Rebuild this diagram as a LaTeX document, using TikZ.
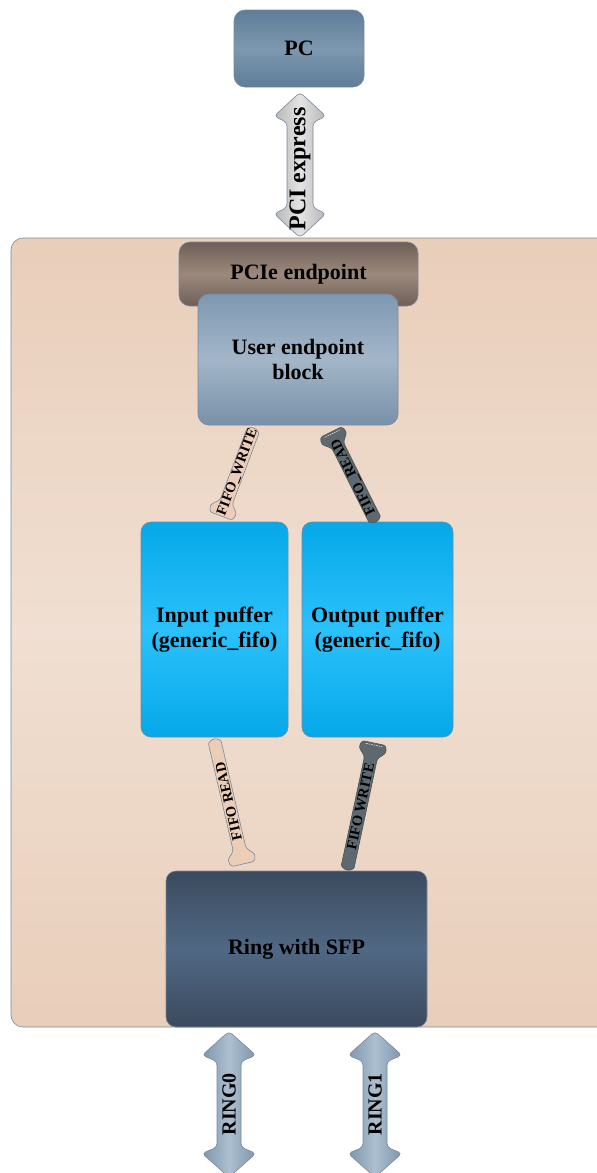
\documentclass[tikz,border=0pt]{standalone}
\usepackage{fontspec}
\setmainfont{Liberation Serif}
\usetikzlibrary{calc}

\definecolor{edge}{HTML}{7A899B}
\definecolor{pcTop}{HTML}{5E7D99}
\definecolor{pcMid}{HTML}{7D98AF}
\definecolor{uebTop}{HTML}{7E98B1}
\definecolor{uebMid}{HTML}{A3B6C8}
\definecolor{pcieTop}{HTML}{6E5F57}
\definecolor{pcieMid}{HTML}{9C897C}
\definecolor{fpgaTop}{HTML}{E9CEBA}
\definecolor{fpgaMid}{HTML}{F0DFD2}
\definecolor{fifoTop}{HTML}{05A8E8}
\definecolor{fifoMid}{HTML}{2BC1FB}
\definecolor{ringTop}{HTML}{3B4A5D}
\definecolor{ringMid}{HTML}{506884}
\definecolor{pciSide}{HTML}{B5B5B5}
\definecolor{pciMid}{HTML}{E4E4E4}
\definecolor{rarSide}{HTML}{7D95AD}
\definecolor{rarMid}{HTML}{ADBFCF}
\definecolor{peach}{HTML}{EBCDB8}
\definecolor{darkarr}{HTML}{5D696F}
\definecolor{darkedge}{HTML}{4A5459}

\tikzset{
  blockbox/.style={draw=edge, line width=0.6pt, rounded corners=11pt,
    inner sep=0pt, align=center, text=black,
    font=\bfseries\fontsize{22}{25}\selectfont},
  biglabel/.style={inner sep=0pt, text=black,
    font=\bfseries\fontsize{24}{26}\selectfont},
  ringlabel/.style={inner sep=0pt, text=black,
    font=\bfseries\fontsize{20}{24}\selectfont},
  fifotext/.style={inner sep=0pt, text=black,
    font=\bfseries\fontsize{14.5}{16}\selectfont},
  peacharrow/.style={draw=edge, line width=0.6pt, fill=peach},
  darkarrow/.style={draw=darkedge, line width=0.6pt, fill=darkarr},
  pcishade/.style={draw=edge, line width=0.6pt,
    left color=pciSide, right color=pciSide, middle color=pciMid},
  ringshade/.style={draw=edge, line width=0.6pt,
    left color=rarSide, right color=rarSide, middle color=rarMid},
}

% vertical double block arrow between two points (top tip, bottom tip)
% #3 style, #4 half head width, #5 half shaft width, #6 head length
\newcommand\dblblockarrow[6]{%
  \draw[#3, rounded corners=4pt]
    (#1) -- ($(#1)+(#4,-#6)$) -- ($(#1)+(#5,-#6-6)$)
    -- ($(#2)+(#5,#6+6)$) -- ($(#2)+(#4,#6)$) -- (#2)
    -- ($(#2)+(-#4,#6)$) -- ($(#2)+(-#5,#6+6)$)
    -- ($(#1)+(-#5,-#6-6)$) -- ($(#1)+(-#4,-#6)$) -- cycle;
}

% slanted FIFO arrow from a tail point to the flat end of its head
% #1 tail, #2 head end, #3 style, #4 label, #5 extra text turn, #6 label name
\newcommand\fifoarrow[6]{%
  \path let \p1=($(#2)-(#1)$) in
    \pgfextra{\pgfmathparse{atan2(\y1,\x1)}\xdef\fang{\pgfmathresult}%
              \pgfmathparse{veclen(\x1,\y1)}\xdef\flen{\pgfmathresult}};
  \begin{scope}[shift={(#1)}, rotate=\fang]
    \draw[#3, rounded corners=2.5pt]
      (\flen-15,6.5) -- (6.5,6.5) arc[start angle=90, end angle=270, radius=6.5]
      -- (\flen-15,-6.5) -- (\flen-7,-14) -- (\flen,-12)
      -- (\flen,12) -- (\flen-7,14) -- cycle;
    \node[fifotext, rotate={\fang+#5}] (#6) at (\flen/2,0) {#4};
  \end{scope}
}
% light dashed highlight across a dark arrow head
\newcommand\headglint[2]{%
  \path let \p1=($(#2)-(#1)$) in
    \pgfextra{\pgfmathparse{atan2(\y1,\x1)}\xdef\fang{\pgfmathresult}%
              \pgfmathparse{veclen(\x1,\y1)}\xdef\flen{\pgfmathresult}};
  \begin{scope}[shift={(#1)}, rotate=\fang]
    \draw[white!85!gray, line width=0.5pt, dash pattern=on 1.5pt off 1pt]
      (\flen-2,-9) -- (\flen-2,9);
  \end{scope}
}

\begin{document}
\begin{tikzpicture}[x=1pt, y=1pt]
\path[use as bounding box] (0,0) rectangle (597,-1173);
\clip (0,0) rectangle (597,-1173);

% FPGA area
\node[blockbox, rounded corners=12pt, minimum width=609, minimum height=789,
      top color=fpgaTop, bottom color=fpgaTop, middle color=fpgaMid]
      (fpga) at (315.5,-632.5) {};

% host PC
\node[blockbox, minimum width=130, minimum height=77,
      top color=pcTop, bottom color=pcTop, middle color=pcMid]
      (pc) at (299,-48.5) {PC};

% PCIe endpoint and user block on top of it
\node[blockbox, minimum width=239, minimum height=64,
      top color=pcieTop, bottom color=pcieTop, middle color=pcieMid]
      (pcie) at (298.5,-274) {PCIe endpoint};
\node[blockbox, minimum width=200, minimum height=131,
      top color=uebTop, bottom color=uebTop!95!black, middle color=uebMid]
      (ueb) at (298,-359.5) {User endpoint\\block};

% FIFO buffers
\node[blockbox, rounded corners=10pt, minimum width=147, minimum height=215,
      top color=fifoTop, bottom color=fifoTop, middle color=fifoMid]
      (inbuf) at (214.5,-629.5) {Input puffer\\(generic\_fifo)};
\node[blockbox, rounded corners=10pt, minimum width=151, minimum height=215,
      top color=fifoTop, bottom color=fifoTop, middle color=fifoMid]
      (outbuf) at (377.5,-629.5) {Output puffer\\(generic\_fifo)};

% ring interface
\node[blockbox, rounded corners=10pt, minimum width=261, minimum height=156,
      top color=ringTop, bottom color=ringTop, middle color=ringMid]
      (ring) at (296.5,-949) {Ring with SFP};

% PCI express link
\coordinate (pciA) at ($(pc.south)+(1,-5)$);
\coordinate (pciB) at (pciA |- fpga.north);
\dblblockarrow{pciA}{pciB}{pcishade}{26}{13}{24}
\node[biglabel, rotate=90] (pcilabel) at ($(pciA)!0.5!(pciB)+(0,-4)$) {PCI express};

% ring links
\coordinate (r0A) at ($(ring.south)+(-67.5,-4)$);
\coordinate (r0B) at ($(r0A)+(0,-146)$);
\coordinate (r1A) at ($(ring.south)+(78.5,-4)$);
\coordinate (r1B) at ($(r1A)+(0,-146)$);
\dblblockarrow{r0A}{r0B}{ringshade}{27}{12}{24}
\dblblockarrow{r1A}{r1B}{ringshade}{27}{12}{24}
\node[ringlabel, rotate=90] (ring0label) at ($(r0A)+(0,-73)$) {RING0};
\node[ringlabel, rotate=90] (ring1label) at ($(r1A)+(0,-73)$) {RING1};

% FIFO access arrows
\coordinate (w1a) at (254,-428);
\coordinate (w1b) at (221,-516);
\coordinate (r1a) at (376,-522);
\coordinate (r1b) at (331,-432);
\coordinate (r2a) at (214,-739);
\coordinate (r2b) at (243,-864);
\coordinate (w2a) at (347,-870);
\coordinate (w2b) at (374,-743);
\fifoarrow{w1a}{w1b}{peacharrow}{FIFO\_WRITE}{180}{w1label}
\fifoarrow{r1a}{r1b}{darkarrow}{FIFO\_READ}{0}{r1label}
\headglint{r1a}{r1b}
\fifoarrow{r2a}{r2b}{peacharrow}{FIFO READ}{180}{r2label}
\fifoarrow{w2a}{w2b}{darkarrow}{FIFO WRITE}{0}{w2label}
\headglint{w2a}{w2b}
\end{tikzpicture}
\end{document}
